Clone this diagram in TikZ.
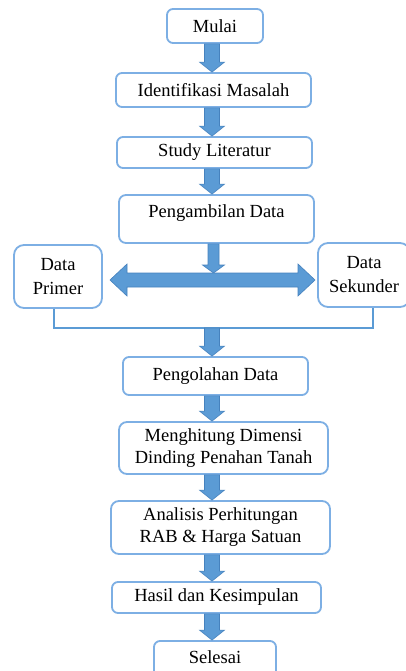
\documentclass[tikz,border=0pt]{standalone}
\usepackage{fontspec}
\setmainfont{Liberation Serif}
\usetikzlibrary{calc}
\definecolor{boxline}{RGB}{125,175,228}
\definecolor{arrfill}{RGB}{91,155,213}
\definecolor{arrline}{RGB}{70,130,190}
\tikzset{
  box/.style={draw=boxline, line width=1.8pt, fill=white, rounded corners=6pt,
    inner sep=0pt, font=\fontsize{18.5}{22}\selectfont, align=center},
  arr/.style={fill=arrfill, draw=arrline, line width=0.6pt},
  bracket/.style={draw=arrfill, line width=2.6pt},
}
% block arrow: from, to, shaft half width, head half width, head length
\newcommand\blkarrow[5]{%
  \draw[arr] let \p1=(#1), \p2=(#2) in
    (\x1-#3,\y1) -- (\x1+#3,\y1) -- (\x1+#3,\y2+#5) -- (\x1+#4,\y2+#5) --
    (\x1,\y2) -- (\x1-#4,\y2+#5) -- (\x1-#3,\y2+#5) -- cycle;}
\begin{document}
\begin{tikzpicture}[x=1pt,y=-1pt]
\useasboundingbox (0,0) rectangle (406,671);
\clip (0,0) rectangle (406,671);
\fill[white] (0,0) rectangle (406,671);

\node[box, minimum width=96pt, minimum height=34pt] (mulai) at (215,26) {Mulai};
\node[box, minimum width=195pt, minimum height=34pt] (ident) at (213.5,90) {Identifikasi Masalah};
\node[box, minimum width=195pt, minimum height=31pt] (study) at (214.5,152.5) {Study Literatur};
\node[box, minimum width=195pt, minimum height=48pt, text height=12.5pt, text depth=16pt, rounded corners=7pt] (ambil) at (216.5,219) {Pengambilan Data};
\node[box, minimum width=88pt, minimum height=63pt, rounded corners=10pt, font=\fontsize{18.5}{24}\selectfont] (primer) at (58,276.5) {Data\\Primer};
\node[box, minimum width=92pt, minimum height=64pt, rounded corners=10pt, font=\fontsize{18.5}{24}\selectfont] (sekunder) at (364,275) {Data\\Sekunder};
\node[box, minimum width=185pt, minimum height=38pt] (olah) at (215.5,376) {Pengolahan Data};
\node[box, minimum width=209pt, minimum height=52pt, rounded corners=8pt] (hitung) at (223.5,448) {Menghitung Dimensi\\Dinding Penahan Tanah};
\node[box, minimum width=219pt, minimum height=53pt, rounded corners=8pt] (analisis) at (220.5,527.5) {Analisis Perhitungan\\RAB \& Harga Satuan};
\node[box, minimum width=209pt, minimum height=31pt] (hasil) at (216.5,597.5) {Hasil dan Kesimpulan};
\node[box, minimum width=122pt, minimum height=48pt, text height=12.5pt, text depth=16pt] (selesai) at (215,665) {Selesai};

% reference coordinates
\coordinate (ax) at (212,0);
\coordinate (dl) at (110,280);
\coordinate (dr) at (315,280);
\coordinate (dtop) at (213.5,273);
\coordinate (bL) at (54,328);
\coordinate (bR) at (373,328);

% vertical block arrows
\blkarrow{mulai.south -| ax}{ident.north -| ax}{7.5pt}{12.5pt}{10pt}
\blkarrow{ident.south -| ax}{study.north -| ax}{7.5pt}{12.5pt}{10pt}
\blkarrow{study.south -| ax}{ambil.north -| ax}{7.5pt}{12.5pt}{10pt}
\blkarrow{ambil.south -| dtop}{dtop}{5.5pt}{11pt}{8pt}

% double arrow
\draw[arr] let \p1=(dl), \p2=(dr) in
  (\p1) -- (\x1+17pt,\y1-16pt) -- (\x1+17pt,\y1-7pt) -- (\x2-17pt,\y2-7pt) --
  (\x2-17pt,\y2-16pt) -- (\p2) -- (\x2-17pt,\y2+16pt) -- (\x2-17pt,\y2+7pt) --
  (\x1+17pt,\y1+7pt) -- (\x1+17pt,\y1+16pt) -- cycle;

% bracket joining the two data boxes
\draw[bracket] (bL |- primer.south) -- (bL) -- (bR) -- (bR |- sekunder.south);

\blkarrow{bL -| ax}{olah.north -| ax}{7.5pt}{12.5pt}{10pt}
\blkarrow{olah.south -| ax}{hitung.north -| ax}{7.5pt}{12.5pt}{10pt}
\blkarrow{hitung.south -| ax}{analisis.north -| ax}{7.5pt}{12.5pt}{10pt}
\blkarrow{analisis.south -| ax}{hasil.north -| ax}{7.5pt}{12.5pt}{10pt}
\blkarrow{hasil.south -| ax}{selesai.north -| ax}{7.5pt}{12.5pt}{10pt}
\end{tikzpicture}
\end{document}
